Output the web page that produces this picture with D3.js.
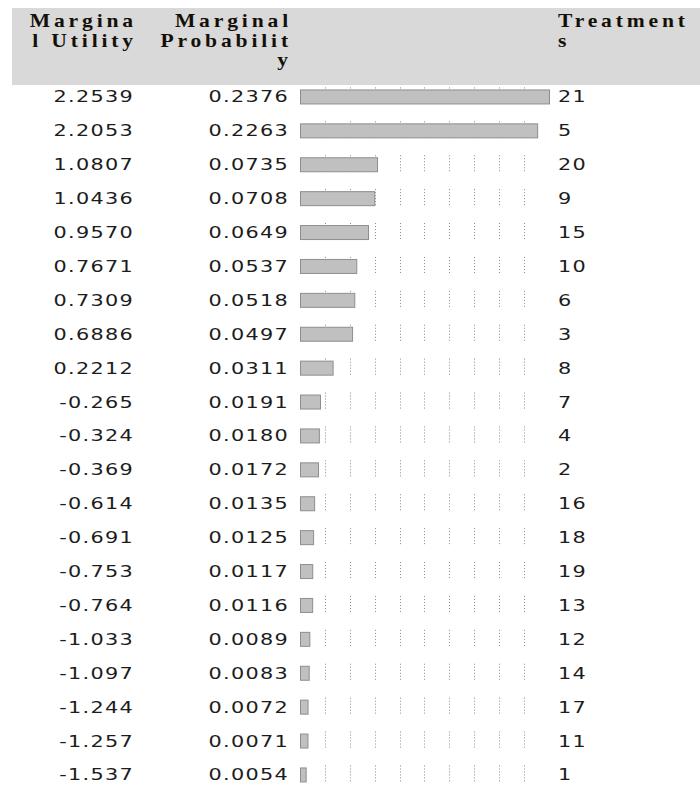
<!DOCTYPE html>
<html>
<head>
<meta charset="utf-8">
<script src="https://cdn.jsdelivr.net/npm/d3@7"></script>
<style>
  body { margin: 0; background: #fff; }
  svg { display: block; }
</style>
</head>
<body>
<div id="chart"></div>
<script>
// table values
var utility = ["2.2539", "2.2053", "1.0807", "1.0436", "0.9570", "0.7671", "0.7309", "0.6886", "0.2212",
  "-0.265", "-0.324", "-0.369", "-0.614", "-0.691", "-0.753", "-0.764", "-1.033", "-1.097", "-1.244", "-1.257", "-1.537"];
var probability = [0.2376, 0.2263, 0.0735, 0.0708, 0.0649, 0.0537, 0.0518, 0.0497, 0.0311,
  0.0191, 0.0180, 0.0172, 0.0135, 0.0125, 0.0117, 0.0116, 0.0089, 0.0083, 0.0072, 0.0071, 0.0054];
var treatments = ["21", "5", "20", "9", "15", "10", "6", "3", "8", "7", "4", "2", "16", "18", "19", "13", "12", "14", "17", "11", "1"];
var headUtility = ["Margina", "l Utility"];
var headProb = ["Marginal", "Probabilit", "y"];
var headTreat = ["Treatment", "s"];

var width = 700, height = 786;

var svg = d3.select("#chart")
  .append("svg")
  .attr("width", width)
  .attr("height", height);

// header band
svg.append("rect")
  .attr("x", 12).attr("y", 8)
  .attr("width", width - 12).attr("height", 77)
  .attr("fill", "#d9d9d9");

function headerLines(lines, x, anchor) {
  lines.forEach(function(t, i) {
    svg.append("text")
      .attr("transform", "translate(" + x + "," + (27 + i * 19.5) + ") scale(1.2,1)")
      .attr("text-anchor", anchor)
      .attr("font-family", "'Liberation Serif', 'Times New Roman', serif")
      .attr("font-weight", "bold")
      .attr("font-size", 18)
      .attr("letter-spacing", 3.2)
      .attr("fill", "#141008")
      .text(t);
  });
}
headerLines(headUtility, 137, "end");
headerLines(headProb, 292, "end");
headerLines(headTreat, 558, "start");

// rows
var rows = d3.range(probability.length);
var y = d3.scaleBand()
  .domain(rows)
  .range([79.5, 79.5 + 33.9 * rows.length]);

var x = d3.scaleLinear()
  .domain([0, d3.max(probability)])
  .range([300, 549]);

var gridVals = d3.range(1, 10).map(function(k) { return k * d3.max(probability) / 10; });
var barH = 14;

var row = svg.append("g")
  .selectAll("g")
  .data(rows)
  .enter()
  .append("g")
  .attr("transform", function(i) { return "translate(0," + (y(i) + y.bandwidth() / 2) + ")"; });

// dotted grid segments behind the bars
row.selectAll("line")
  .data(gridVals)
  .enter().append("line")
  .attr("x1", function(d) { return Math.round(x(d)) + 0.5; })
  .attr("x2", function(d) { return Math.round(x(d)) + 0.5; })
  .attr("y1", -barH / 2 - 2)
  .attr("y2", barH / 2 + 1)
  .attr("stroke", "#8a8a8a")
  .attr("stroke-width", 1)
  .attr("stroke-dasharray", "1,2");

row.append("rect")
  .attr("x", x(0) + 0.5)
  .attr("y", -barH / 2 + 0.5)
  .attr("width", function(i) { return x(probability[i]) - x(0); })
  .attr("height", barH)
  .attr("fill", "#c0c0c0")
  .attr("stroke", "#8e8e8e")
  .attr("stroke-width", 1);

function cellText(sel, xPos, anchor, fn) {
  sel.append("text")
    .attr("transform", "translate(" + xPos + ",6) scale(1.3,1)")
    .attr("text-anchor", anchor)
    .attr("font-family", "'DejaVu Sans', Verdana, sans-serif")
    .attr("font-size", 16)
    .attr("letter-spacing", 1)
    .attr("fill", "#1c1c1c")
    .text(fn);
}
cellText(row, 134, "end", function(i) { return utility[i]; });
cellText(row, 289, "end", function(i) { return d3.format(".4f")(probability[i]); });
cellText(row, 558, "start", function(i) { return treatments[i]; });
</script>
</body>
</html>
